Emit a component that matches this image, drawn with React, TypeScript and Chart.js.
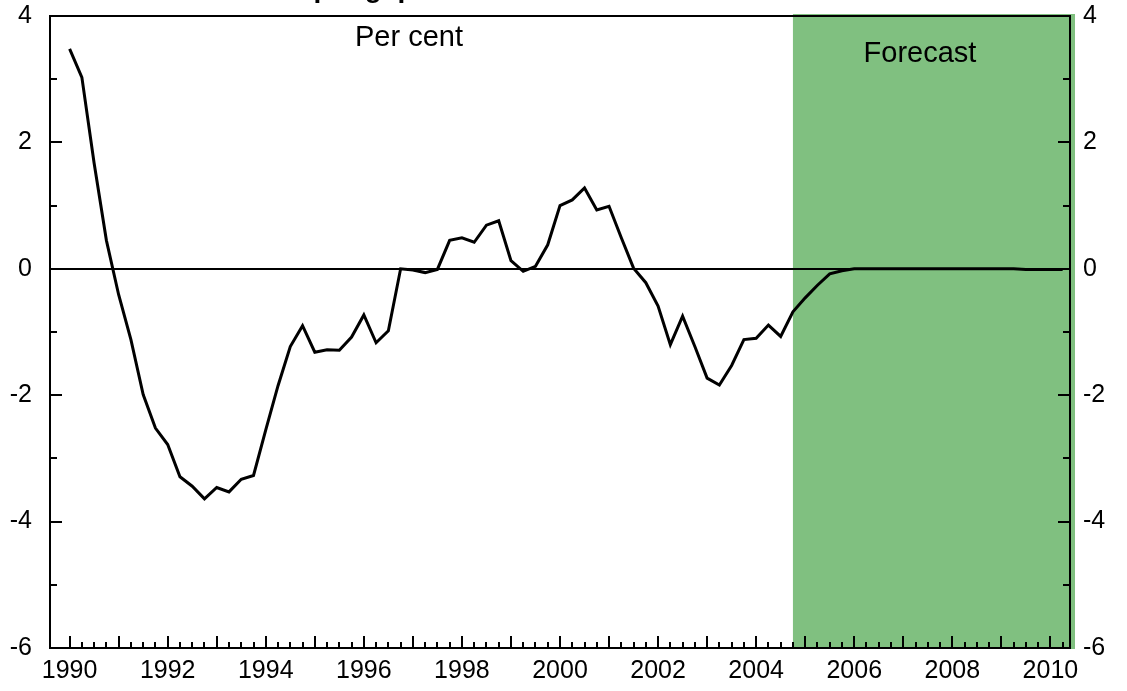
import React, { useEffect, useRef } from "react";
import { Chart, registerables } from "chart.js";

Chart.register(...registerables);

// Quarterly observations, first quarter = 1990Q1
const startYear = 1990;
const outputGap: number[] = [
  3.48, 3.03, 1.67, 0.45, // 1990
  -0.41, -1.12, -1.99, -2.52, // 1991
  -2.78, -3.29, -3.44, -3.64, // 1992
  -3.46, -3.53, -3.33, -3.27, // 1993
  -2.55, -1.85, -1.23, -0.9, // 1994
  -1.32, -1.28, -1.29, -1.08, // 1995
  -0.73, -1.17, -0.98, 0.0, // 1996
  -0.02, -0.06, -0.01, 0.45, // 1997
  0.49, 0.42, 0.69, 0.76, // 1998
  0.13, -0.04, 0.04, 0.38, // 1999
  1.0, 1.09, 1.28, 0.93, // 2000
  0.99, 0.49, 0.01, -0.22, // 2001
  -0.59, -1.2, -0.75, -1.23, // 2002
  -1.73, -1.84, -1.53, -1.12, // 2003
  -1.1, -0.89, -1.07, -0.68, // 2004
  -0.46, -0.26, -0.08, -0.03, // 2005
  0.0, 0.0, 0.0, 0.0, // 2006
  0.0, 0.0, 0.0, 0.0, // 2007
  0.0, 0.0, 0.0, 0.0, // 2008
  0.0, 0.0, -0.01, -0.01, // 2009
  -0.01, -0.01, // 2010
];

const forecastStart = 2004.75;
const xMin = 1989.6;
const xMax = 2010.4;
const xTickLabels = [1990, 1992, 1994, 1996, 1998, 2000, 2002, 2004, 2006, 2008, 2010];
const xMajorTicks = [1990, 1991, 1992, 1993, 1994, 1995, 1996, 1997, 1998, 1999, 2000, 2001, 2002, 2003, 2004, 2005, 2006, 2007, 2008, 2009, 2010];
const yTickLabels = [-6, -4, -2, 0, 2, 4];
const yMinorTicks = [-5, -3, -1, 1, 3];
const yMin = -6;
const yMax = 4;

const titleText = "Output gap";
const unitText = "Per cent";
const forecastText = "Forecast";

const FONT = "'Liberation Sans', Arial, sans-serif";

const decorPlugin = {
  id: "decor",
  beforeDatasetsDraw(chart: any) {
    const { ctx, chartArea } = chart;
    const xs = chart.scales.x;
    const ys = chart.scales.y;
    const { left, right, top, bottom } = chartArea;
    ctx.save();
    // forecast shading
    const fx = xs.getPixelForValue(forecastStart);
    ctx.fillStyle = "#80C080";
    ctx.fillRect(fx, top - 2, right + 5 - fx, bottom - top + 3);
    // zero line
    ctx.strokeStyle = "#000";
    ctx.lineWidth = 2;
    const y0 = Math.round(ys.getPixelForValue(0));
    ctx.beginPath();
    ctx.moveTo(left, y0);
    ctx.lineTo(right, y0);
    ctx.stroke();
    // frame
    ctx.beginPath();
    ctx.moveTo(left, top);
    ctx.lineTo(right, top);
    ctx.lineTo(right, bottom);
    ctx.lineTo(left, bottom);
    ctx.closePath();
    ctx.stroke();
    // y ticks (inward, both sides)
    const drawY = (v: number, len: number) => {
      const py = Math.round(ys.getPixelForValue(v));
      ctx.beginPath();
      ctx.moveTo(left, py);
      ctx.lineTo(left + len, py);
      ctx.moveTo(right, py);
      ctx.lineTo(right - len, py);
      ctx.stroke();
    };
    yTickLabels.forEach((v) => drawY(v, 12));
    yMinorTicks.forEach((v) => drawY(v, 7));
    // x ticks (inward)
    xMajorTicks.forEach((yr) => {
      const px = Math.round(xs.getPixelForValue(yr));
      ctx.beginPath();
      ctx.moveTo(px, bottom);
      ctx.lineTo(px, bottom - 12);
      ctx.stroke();
      [0.25, 0.5, 0.75].forEach((q) => {
        const v = yr + q;
        if (v < xMax) {
          const qx = Math.round(xs.getPixelForValue(v));
          ctx.beginPath();
          ctx.moveTo(qx, bottom);
          ctx.lineTo(qx, bottom - 6);
          ctx.stroke();
        }
      });
    });
    // texts
    ctx.fillStyle = "#000";
    ctx.textAlign = "center";
    ctx.textBaseline = "alphabetic";
    ctx.font = `29px ${FONT}`;
    ctx.fillText(unitText, 409, 46);
    ctx.fillText(forecastText, 920, 62);
    ctx.font = `bold 28px ${FONT}`;
    ctx.fillText(titleText, 340, -3);
    ctx.restore();
  },
};

const fitY = (w: number) => (s: any) => {
  s.width = w;
  s.paddingTop = 0;
  s.paddingBottom = 0;
};

export default function App() {
  const canvasRef = useRef<HTMLCanvasElement | null>(null);

  useEffect(() => {
    const canvas = canvasRef.current;
    if (!canvas) return;
    const points = outputGap.map((v, i) => ({ x: startYear + i * 0.25, y: v }));
    const tickFont = { family: FONT, size: 25 };
    const chart = new Chart(canvas, {
      type: "line",
      data: {
        datasets: [
          {
            data: points,
            borderColor: "#000",
            borderWidth: 3,
            pointRadius: 0,
            tension: 0,
            fill: false,
            yAxisID: "y",
          },
        ],
      },
      options: {
        animation: false,
        responsive: false,
        devicePixelRatio: 1,
        layout: { autoPadding: false, padding: { top: 16, left: 0, right: 0, bottom: 0 } },
        plugins: { legend: { display: false }, tooltip: { enabled: false }, title: { display: false } },
        scales: {
          x: {
            type: "linear",
            min: xMin,
            max: xMax,
            grid: { display: false, drawTicks: false },
            border: { display: false },
            afterFit: (s: any) => {
              s.height = 43;
              s.paddingLeft = 0;
              s.paddingRight = 0;
            },
            afterBuildTicks: (s: any) => {
              s.ticks = xTickLabels.map((v) => ({ value: v }));
            },
            ticks: {
              font: tickFont,
              color: "#000",
              padding: 8,
              maxRotation: 0,
              autoSkip: false,
              callback: (v: any) => String(v),
            },
          },
          y: {
            type: "linear",
            position: "left",
            min: yMin,
            max: yMax,
            grid: { display: false, drawTicks: false },
            border: { display: false },
            afterFit: fitY(50),
            afterBuildTicks: (s: any) => {
              s.ticks = yTickLabels.map((v) => ({ value: v }));
            },
            ticks: { font: tickFont, color: "#000", padding: 18, callback: (v: any) => String(v) },
          },
          y2: {
            type: "linear",
            position: "right",
            min: yMin,
            max: yMax,
            grid: { display: false, drawTicks: false },
            border: { display: false },
            afterFit: fitY(57),
            afterBuildTicks: (s: any) => {
              s.ticks = yTickLabels.map((v) => ({ value: v }));
            },
            ticks: { font: tickFont, color: "#000", padding: 13, callback: (v: any) => String(v) },
          },
        },
      },
      plugins: [decorPlugin],
    });
    return () => chart.destroy();
  }, []);

  return (
    <div style={{ position: "absolute", left: 0, top: 0, width: 1127, height: 691, background: "#fff" }}>
      <canvas ref={canvasRef} width={1127} height={691} style={{ width: 1127, height: 691, display: "block" }} />
    </div>
  );
}
